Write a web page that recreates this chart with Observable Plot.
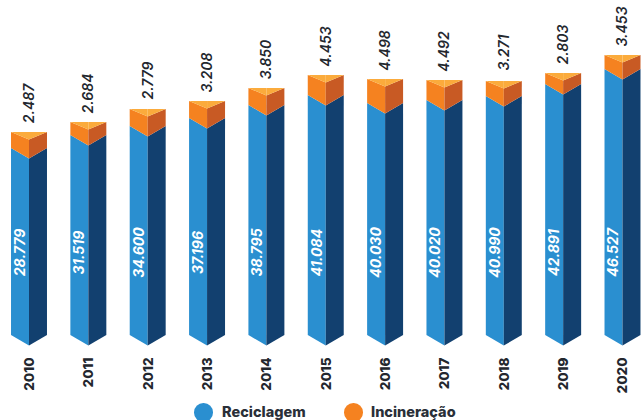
<!DOCTYPE html>
<html><head><meta charset="utf-8">
<script src="https://cdn.jsdelivr.net/npm/d3@7"></script>
<script src="https://cdn.jsdelivr.net/npm/@observablehq/plot@0.6"></script>
<style>
html,body{margin:0;padding:0;background:#fff;overflow:hidden;width:641px;height:420px}
#legend{position:relative;height:22px;font:800 14.5px/18px "Inter",sans-serif;color:#2a2f38}
#legend i{position:absolute;top:5px;width:18.6px;height:18.6px;border-radius:50%}
#legend span{position:absolute;top:5px}
</style></head><body><div id="chart"></div><div id="legend"></div>
<script>
const years=[2010,2011,2012,2013,2014,2015,2016,2017,2018,2019,2020];
// printed labels
const reciclagemLabels=["28.779","31.519","34.600","37.196","38.795","41.084","40.030","40.020","40.990","42.891","46.527"];
const incineracaoLabels=["2.487","2.684","2.779","3.208","3.850","4.453","4.498","4.492","3.271","2.803","3.453"];
// heights as drawn in the picture (the picture's bars are not to a single linear scale)
const azulAltura=[187,200,209,217,230,240,232,235,239,251,266];
const laranjaAltura=[16,13,17,17,17,20,24,20,15,11,14];
const depth=10.5,topDepth=7.5,halfBar=0.303;
const cAzul="#2a8fd0",cAzulEsc="#12406f",cLar="#f58220",cLarEsc="#c85a24",cTopo="#fbab3c";
const faces=[];
years.forEach((yr,i)=>{
  const b=azulAltura[i],t=b+laranjaAltura[i];
  const quad=(id,fill,x0,x1,a0,a1,b0,b1)=>{
    faces.push({id:id+yr,fill,x:x0,y1:a0,y2:b0});
    faces.push({id:id+yr,fill,x:x1,y1:a1,y2:b1});
  };
  quad("fa",cAzul,yr-halfBar,yr,0,-depth,b,b-depth);
  quad("sa",cAzulEsc,yr,yr+halfBar,-depth,0,b-depth,b);
  quad("fl",cLar,yr-halfBar,yr,b,b-depth,t,t-topDepth);
  quad("sl",cLarEsc,yr,yr+halfBar,b-depth,b,t-topDepth,t);
  quad("to",cTopo,yr-halfBar,yr,t,t-topDepth,t,t);
  quad("tr",cTopo,yr,yr+halfBar,t-topDepth,t,t,t);
});
const x0=2010-29/59.35;
const chart=Plot.plot({
  width:641,height:398,marginLeft:0,marginRight:0,marginTop:0,marginBottom:0,
  x:{domain:[x0,x0+641/59.35],range:[0,641],axis:null},
  y:{domain:[-63,335],range:[398,0],axis:null},
  marks:[
    Plot.areaY(faces,{x:"x",y1:"y1",y2:"y2",z:"id",fill:"fill",curve:"linear"}),
    Plot.text(years,{x:d=>d,y:-22,text:d=>String(d),rotate:-90,textAnchor:"end",fontSize:13.5,fontWeight:800,fill:"#23272e",fontFamily:"Inter"}),
    Plot.text(years,{x:d=>d-halfBar/2,y:83,text:(d,i)=>reciclagemLabels[i],rotate:-90,fontSize:14,fontWeight:700,fontStyle:"italic",fill:"#fff",fontFamily:"Inter"}),
    Plot.text(years,{x:d=>d,y:(d,i)=>azulAltura[i]+laranjaAltura[i]+29,text:(d,i)=>incineracaoLabels[i],rotate:-90,fontSize:14,fontWeight:600,fontStyle:"italic",fill:"#23272e",fontFamily:"Inter"})
  ]
});
document.getElementById("chart").appendChild(chart);
const seriesLegend=[["Reciclagem",cAzul,194,222],["Incineração",cLar,344,371]];
document.getElementById("legend").innerHTML=seriesLegend.map(([n,c,a,b])=>`<i style="left:${a}px;background:${c}"></i><span style="left:${b}px">${n}</span>`).join("");
</script></body></html>
